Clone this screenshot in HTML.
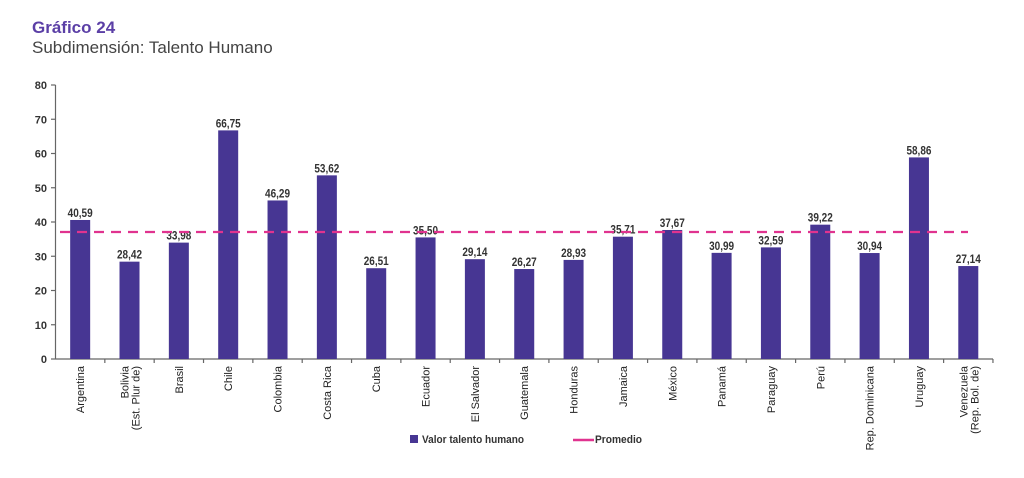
<!DOCTYPE html>
<html><head><meta charset="utf-8"><style>
body{margin:0;background:#fff;}
svg text{font-family:"Liberation Sans",sans-serif;}
</style></head><body>
<svg width="1024" height="473" viewBox="0 0 1024 473" xmlns="http://www.w3.org/2000/svg">
<text x="32" y="33" font-size="17" fill="#5b3fa6" font-weight="bold">Gráfico 24</text>
<text x="32" y="53" font-size="17" fill="#444">Subdimensión: Talento Humano</text>
<g id="ax" stroke="#666" stroke-width="1.2" fill="none">
<line x1="55.5" y1="85" x2="55.5" y2="359"/>
<line x1="55.5" y1="359" x2="993" y2="359"/>
</g>
<g font-size="11" font-weight="bold" fill="#333" text-anchor="end" id="yt"></g>
<g id="bars"></g>
<line x1="60" y1="232" x2="968" y2="232" stroke="#e0338f" stroke-width="2.2" stroke-dasharray="10,7"/>
<rect x="410" y="435" width="8" height="8" fill="#473693"/>
<text x="422" y="443" font-size="11" font-weight="bold" fill="#333" textLength="102" lengthAdjust="spacingAndGlyphs">Valor talento humano</text>
<line x1="573" y1="440" x2="594" y2="440" stroke="#e0338f" stroke-width="2.5"/>
<text x="595" y="443" font-size="11" font-weight="bold" fill="#333" textLength="47" lengthAdjust="spacingAndGlyphs">Promedio</text>
</svg>
<script>
var NS="http://www.w3.org/2000/svg";
function el(t,a,p,txt){var e=document.createElementNS(NS,t);for(var k in a)e.setAttribute(k,a[k]);if(txt)e.textContent=txt;p.appendChild(e);return e;}
var svg=document.querySelector('svg'),yt=document.getElementById('yt'),ax=document.getElementById('ax'),bars=document.getElementById('bars');
function Y(v){return 359-v*3.425;}
for(var i=0;i<=8;i++){var y=Y(i*10);el('text',{x:47,y:y+4},yt,String(i*10));el('line',{x1:51,y1:y,x2:55.5,y2:y},ax);}
var d=[["Argentina",40.59],["Bolivia|(Est. Plur de)",28.42],["Brasil",33.98],["Chile",66.75],["Colombia",46.29],["Costa Rica",53.62],["Cuba",26.51],["Ecuador",35.50],["El Salvador",29.14],["Guatemala",26.27],["Honduras",28.93],["Jamaica",35.71],["México",37.67],["Panamá",30.99],["Paraguay",32.59],["Perú",39.22],["Rep. Dominicana",30.94],["Uruguay",58.86],["Venezuela|(Rep. Bol. de)",27.14]];
var w=49.34;
d.forEach(function(r,i){
 var cx=55.5+w*(i+0.5);
 el('line',{x1:55.5+w*(i+1),y1:359,x2:55.5+w*(i+1),y2:363},ax);
 var y=Y(r[1]);
 el('rect',{x:cx-10,y:y,width:20,height:359-y,fill:'#473693'},bars);
 var s=r[1].toFixed(2).replace('.',',');
 el('text',{x:cx,y:y-3,'font-size':11.5,'font-weight':'bold',fill:'#333','text-anchor':'middle',textLength:25,lengthAdjust:'spacingAndGlyphs'},bars,s);
 var L=r[0].split('|');
 L.forEach(function(t,j){
  var ox=L.length==1?4:(j==0?-1:10);
  el('text',{transform:'translate('+(cx+ox)+',366) rotate(-90)','font-size':11,fill:'#222','text-anchor':'end'},bars,t);
 });
});
</script>
</body></html>
